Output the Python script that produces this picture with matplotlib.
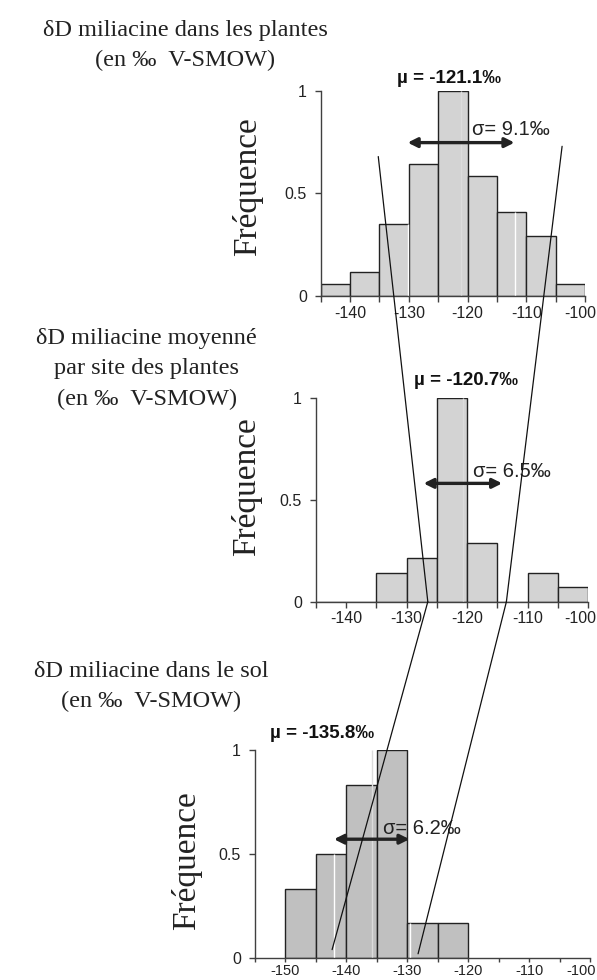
import numpy as np
import matplotlib
matplotlib.use("Agg")
import matplotlib.pyplot as plt
import matplotlib.transforms as mtransforms
from matplotlib.patches import ConnectionPatch

# bin edges (5 permil bins) and normalised frequencies
edges_plants = [-145, -140, -135, -130, -125, -120, -115, -110, -105, -100]
freq_plants = [0.057, 0.119, 0.353, 0.644, 1.0, 0.587, 0.41, 0.291, 0.057]

edges_sites = [-145, -140, -135, -130, -125, -120, -115, -110, -105, -100]
freq_sites = [0.0, 0.0, 0.143, 0.214, 1.0, 0.286, 0.0, 0.143, 0.071]

edges_soil = [-150, -145, -140, -135, -130, -125, -120]
freq_soil = [0.333, 0.5, 0.833, 1.0, 0.167, 0.167]

means = [-121.1, -120.7, -135.8]
sigmas = [9.1, 6.5, 6.2]
xlims = [(-145, -100), (-145, -100), (-155, -100)]

titles = ["δD miliacine dans les plantes\n(en ‰  V-SMOW)",
          "δD miliacine moyenné\npar site des plantes\n(en ‰  V-SMOW)",
          "δD miliacine dans le sol\n(en ‰  V-SMOW)"]

# points of the two guide lines linking the panels (data coords of each panel)
link_left = [(0, -135.2, 0.68), (1, -126.5, 0.0), (2, -142.3, 0.04)]
link_right = [(0, -103.9, 0.73), (1, -113.5, 0.0), (2, -128.2, 0.02)]

plt.rcParams['font.family'] = ['Liberation Sans', 'DejaVu Sans']

fig = plt.figure(figsize=(5.97, 9.8), dpi=100)
boxes = [[0.5372, 0.6980, 0.4427, 0.2092],
         [0.5293, 0.3860, 0.4556, 0.2082],
         [0.4266, 0.0225, 0.5617, 0.2122]]
axes = [fig.add_axes(b) for b in boxes]

data = [(edges_plants, freq_plants, '#d3d3d3'),
        (edges_sites, freq_sites, '#d3d3d3'),
        (edges_soil, freq_soil, '#c0c0c0')]

mu_pos = [(-123.2, 1.059), (-120.2, 1.083), (-144.0, 1.077)]
sig_pos = [(-119.2, 0.81), (-119.0, 0.637), (-134.0, 0.624)]
arrow_y = [0.748, 0.58, 0.571]
ylab_pos = [(-0.218, 0.532), (-0.199, 0.562), (-0.157, 0.47)]
white_guides = [True, False, True]

for i, ax in enumerate(axes):
    edges, freq, col = data[i]
    lefts = np.array(edges[:-1])
    widths = np.diff(edges)
    ax.bar(lefts, freq, width=widths, align='edge', color=col,
           edgecolor='#222222', linewidth=1.0, zorder=2)
    m, s = means[i], sigmas[i]
    # faint mean line and white +/- sigma lines inside the bars
    ax.vlines(m, 0, 1, color='#dcdcdc', linewidth=1.0, zorder=2.5)
    if white_guides[i]:
        for xv in (m - s, m + s):
            k = np.searchsorted(edges, xv) - 1
            if 0 <= k < len(freq):
                ax.vlines(xv, 0, freq[k], color='white', linewidth=1.0, zorder=2.5)
    ax.set_xlim(*xlims[i])
    ax.set_ylim(0, 1)
    ticks = np.arange(xlims[i][0], xlims[i][1] + 1, 5)
    ax.set_xticks(ticks)
    ax.set_xticklabels([str(v) if v % 10 == 0 else '' for v in ticks])
    ax.set_yticks([0, 0.5, 1])
    ax.set_yticklabels(['0', '0.5', '1'])
    for sp in ['top', 'right']:
        ax.spines[sp].set_visible(False)
    for sp in ['left', 'bottom']:
        ax.spines[sp].set_color('#404040')
        ax.spines[sp].set_linewidth(1.0)
    ax.tick_params(axis='both', labelsize=11.5, colors='#404040',
                   labelcolor='#222222', length=4, width=1.0, pad=3)
    ax.tick_params(axis='y', pad=6)
    ax.set_ylabel('Fréquence', family=['Liberation Serif'], fontsize=24,
                  color='#222222')
    ax.yaxis.set_label_coords(*ylab_pos[i])
    ax.patch.set_alpha(0)

    ax.annotate('', xy=(m - s, arrow_y[i]), xytext=(m + s, arrow_y[i]),
                arrowprops=dict(arrowstyle='<|-|>', color='#222222', lw=2.4,
                                mutation_scale=14, shrinkA=0, shrinkB=0),
                zorder=5)
    ax.text(sig_pos[i][0], sig_pos[i][1], f'σ= {s}‰', fontsize=14.5,
            ha='left', va='center', color='#222222', zorder=5)
    ax.text(mu_pos[i][0], mu_pos[i][1], f'µ = {m}‰', fontsize=13.5,
            fontweight='bold', ha='center', va='center', color='#111111',
            transform=ax.get_xaxis_transform(), clip_on=False)

# bottom panel sits close to the figure edge
axes[2].tick_params(axis='x', labelsize=10.5, length=3, pad=1)

# keep the last "-100" label inside the figure (right aligned at the edge)
for ax, b in zip(axes, boxes):
    right_px = (b[0] + b[2]) * 597
    lab = ax.get_xticklabels()[-1]
    lab.set_horizontalalignment('right')
    shift = mtransforms.ScaledTranslation((596 - right_px) / 100, 0,
                                          fig.dpi_scale_trans)
    lab.set_transform(lab.get_transform() + shift)

title_pos = [(0.31, 0.9536), (0.246, 0.6235), (0.253, 0.2995)]
for (tx, ty), t in zip(title_pos, titles):
    fig.text(tx, ty, t, ha='center', va='center', fontsize=17.5,
             family=['Liberation Serif'], color='#222222', linespacing=1.6)

for link in (link_left, link_right):
    for (a0, x0, y0), (a1, x1, y1) in zip(link[:-1], link[1:]):
        con = ConnectionPatch(xyA=(x0, y0), coordsA=axes[a0].transData,
                              xyB=(x1, y1), coordsB=axes[a1].transData,
                              color='#111111', linewidth=0.9, zorder=10)
        fig.add_artist(con)

fig.savefig('out.png', dpi=100)
